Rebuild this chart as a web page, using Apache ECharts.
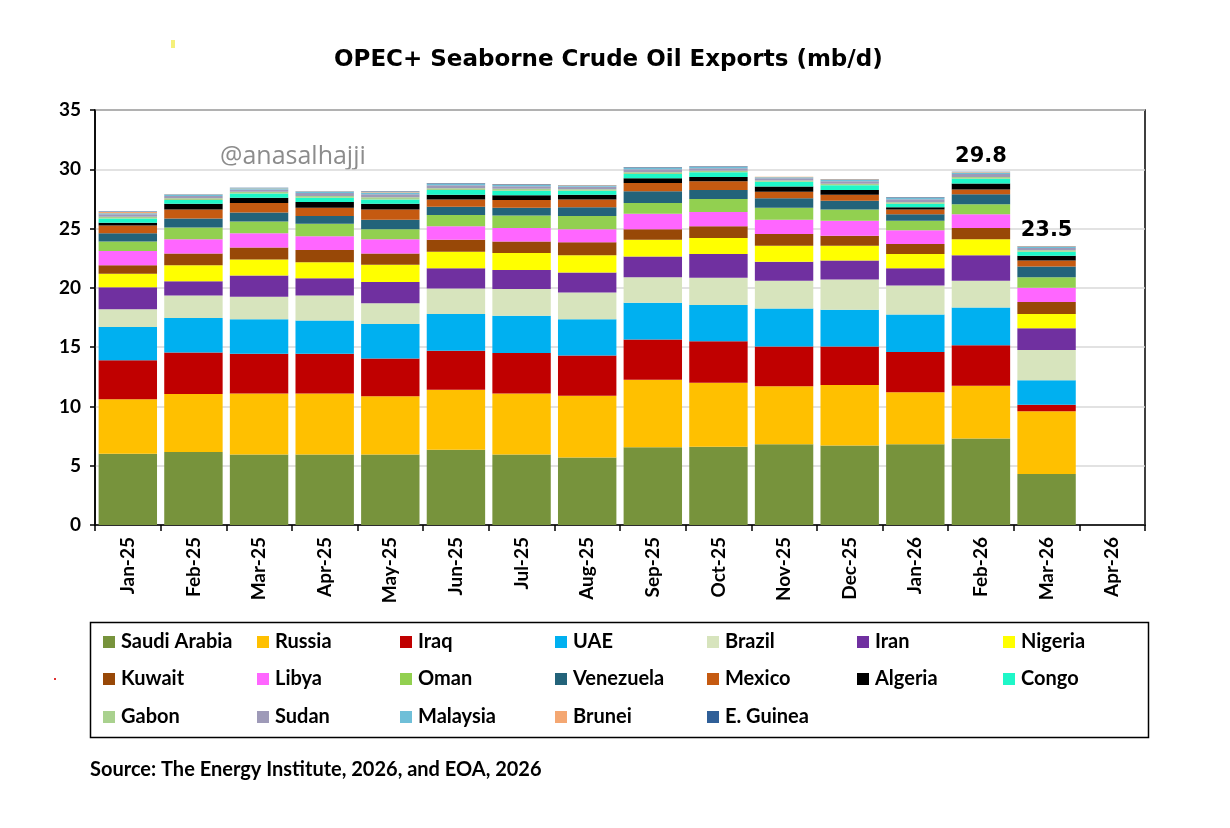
<!DOCTYPE html>
<html>
<head>
<meta charset="utf-8">
<script src="https://cdn.jsdelivr.net/npm/echarts@6/dist/echarts.min.js"></script>
<style>
  html, body { margin: 0; padding: 0; background: #fff; }
  #chart { width: 1230px; height: 828px; }
</style>
</head>
<body>
<div id="chart"></div>
<script>
// 月份
const months = ["Jan-25", "Feb-25", "Mar-25", "Apr-25", "May-25", "Jun-25", "Jul-25", "Aug-25",
  "Sep-25", "Oct-25", "Nov-25", "Dec-25", "Jan-26", "Feb-26", "Mar-26", "Apr-26"];

// 各国出口 (mb/d)
const saudiArabia = [6.0, 6.15, 5.95, 5.95, 5.95, 6.35, 5.95, 5.7, 6.55, 6.6, 6.8, 6.7, 6.8, 7.3, 4.3, null];
const russia = [4.6, 4.9, 5.15, 5.15, 4.9, 5.05, 5.15, 5.2, 5.7, 5.4, 4.9, 5.1, 4.4, 4.45, 5.3, null];
const iraq = [3.3, 3.5, 3.35, 3.35, 3.2, 3.3, 3.4, 3.4, 3.4, 3.5, 3.35, 3.25, 3.4, 3.4, 0.55, null];
const uae = [2.8, 2.9, 2.9, 2.8, 2.9, 3.1, 3.15, 3.05, 3.1, 3.05, 3.2, 3.1, 3.15, 3.2, 2.05, null];
const brazil = [1.5, 1.9, 1.9, 2.1, 1.75, 2.15, 2.25, 2.25, 2.15, 2.3, 2.35, 2.55, 2.45, 2.25, 2.55, null];
const iran = [1.85, 1.2, 1.8, 1.45, 1.8, 1.7, 1.6, 1.7, 1.75, 2.0, 1.6, 1.6, 1.45, 2.15, 1.85, null];
const nigeria = [1.15, 1.35, 1.35, 1.35, 1.45, 1.4, 1.45, 1.45, 1.4, 1.35, 1.35, 1.25, 1.2, 1.35, 1.2, null];
const kuwait = [0.7, 1.0, 1.0, 1.05, 0.95, 1.0, 0.95, 1.1, 0.9, 1.0, 1.0, 0.85, 0.85, 0.95, 1.0, null];
const libya = [1.2, 1.2, 1.2, 1.15, 1.2, 1.15, 1.15, 1.1, 1.3, 1.2, 1.2, 1.25, 1.15, 1.15, 1.2, null];
const oman = [0.8, 1.0, 1.0, 1.05, 0.85, 0.95, 1.05, 1.1, 0.9, 1.1, 1.0, 0.95, 0.8, 0.85, 0.9, null];
const venezuela = [0.7, 0.75, 0.75, 0.65, 0.8, 0.7, 0.65, 0.75, 1.0, 0.75, 0.8, 0.75, 0.55, 0.85, 0.9, null];
const mexico = [0.65, 0.75, 0.8, 0.7, 0.85, 0.6, 0.65, 0.65, 0.7, 0.75, 0.55, 0.5, 0.4, 0.4, 0.5, null];
const algeria = [0.25, 0.5, 0.45, 0.5, 0.5, 0.4, 0.4, 0.4, 0.4, 0.35, 0.45, 0.4, 0.2, 0.5, 0.4, null];
const congo = [0.35, 0.3, 0.35, 0.35, 0.35, 0.4, 0.4, 0.35, 0.35, 0.4, 0.4, 0.4, 0.3, 0.4, 0.35, null];
const gabon = [0.15, 0.15, 0.15, 0.15, 0.2, 0.15, 0.15, 0.12, 0.15, 0.12, 0.1, 0.13, 0.12, 0.15, 0.12, null];
const sudan = [0.2, 0.2, 0.2, 0.25, 0.25, 0.25, 0.22, 0.2, 0.25, 0.22, 0.2, 0.22, 0.25, 0.25, 0.2, null];
const malaysia = [0.1, 0.1, 0.1, 0.1, 0.15, 0.12, 0.1, 0.1, 0.12, 0.1, 0.08, 0.12, 0.12, 0.12, 0.1, null];
const brunei = [0.1, 0.03, 0.03, 0.03, 0.05, 0.04, 0.04, 0.03, 0.04, 0.03, 0.03, 0.04, 0.04, 0.05, 0.03, null];
const eGuinea = [0.05, 0.02, 0.02, 0.02, 0.05, 0.04, 0.04, 0.03, 0.04, 0.03, 0.02, 0.03, 0.04, 0.03, 0.03, null];

// 柱顶标注
const totalLabels = ["", "", "", "", "", "", "", "", "", "", "", "", "", "29.8", "23.5", ""];
const yTicks = [0, 5, 10, 15, 20, 25, 30, 35];

const countries = [
  { name: "Saudi Arabia", data: saudiArabia, color: "#77933C" },
  { name: "Russia", data: russia, color: "#FFC000" },
  { name: "Iraq", data: iraq, color: "#C00000" },
  { name: "UAE", data: uae, color: "#00B0F0" },
  { name: "Brazil", data: brazil, color: "#D7E4BD" },
  { name: "Iran", data: iran, color: "#7030A0" },
  { name: "Nigeria", data: nigeria, color: "#FFFF00" },
  { name: "Kuwait", data: kuwait, color: "#984807" },
  { name: "Libya", data: libya, color: "#FF66FF" },
  { name: "Oman", data: oman, color: "#92D050" },
  { name: "Venezuela", data: venezuela, color: "#23637A" },
  { name: "Mexico", data: mexico, color: "#C55A11" },
  { name: "Algeria", data: algeria, color: "#000000" },
  { name: "Congo", data: congo, color: "#1EF7C8" },
  { name: "Gabon", data: gabon, color: "#A9D18E" },
  { name: "Sudan", data: sudan, color: "#9E9AB8" },
  { name: "Malaysia", data: malaysia, color: "#6FBFD8" },
  { name: "Brunei", data: brunei, color: "#F4A772" },
  { name: "E. Guinea", data: eGuinea, color: "#2F5F98" },
];

// 图例位置 (7列 x 3行)
const legendX = [103, 257, 400, 555, 707, 857, 1003];
const legendY = [632, 669, 707];

const chart = echarts.init(document.getElementById("chart"));

const series = countries.map((c, i) => ({
  name: c.name,
  type: "bar",
  stack: "total",
  data: c.data,
  barCategoryGap: "11%",
  itemStyle: { color: c.color },
  label: i === countries.length - 1 ? {
    show: true,
    position: "top",
    distance: 5,
    formatter: (p) => totalLabels[p.dataIndex],
    fontFamily: "DejaVu Sans",
    fontWeight: "bold",
    fontSize: 21,
    color: "#000",
  } : { show: false },
}));

const legends = countries.map((c, i) => ({
  data: [c.name],
  left: legendX[i % 7],
  top: legendY[Math.floor(i / 7)],
  padding: 0,
  itemWidth: 12,
  itemHeight: 12,
  itemGap: 6,
  icon: "rect",
  selectedMode: false,
  textStyle: { fontFamily: "Lato", fontWeight: "bold", fontSize: 20, color: "#000", padding: [0, 0, 0, 1] },
}));

const option = {
  animation: false,
  backgroundColor: "#fff",
  title: {
    text: "OPEC+ Seaborne Crude Oil Exports (mb/d)",
    left: 329,
    top: 44,
    textStyle: { fontFamily: "DejaVu Sans", fontWeight: "bold", fontSize: 23, color: "#000" },
  },
  grid: {
    left: 95, right: 85, top: 110, bottom: 303,
    show: true, borderColor: "#000", borderWidth: 1.5, backgroundColor: "transparent",
  },
  legend: legends,
  xAxis: {
    type: "category",
    data: months,
    axisLine: { lineStyle: { color: "#000", width: 1.5 } },
    axisTick: { show: true, length: 6, lineStyle: { color: "#000", width: 1.5 } },
    axisLabel: {
      rotate: 90, margin: 12, interval: 0,
      fontFamily: "Lato", fontWeight: "bold", fontSize: 19, color: "#000",
    },
  },
  yAxis: {
    type: "value",
    min: yTicks[0],
    max: yTicks[yTicks.length - 1],
    interval: 5,
    axisLine: { show: true, lineStyle: { color: "#000", width: 1.5 } },
    axisTick: { show: true, length: 5, lineStyle: { color: "#000", width: 1.5 } },
    axisLabel: { margin: 14, fontFamily: "Lato", fontWeight: "bold", fontSize: 19, color: "#000" },
    splitLine: { lineStyle: { color: "#D9D9D9", width: 1.5 } },
  },
  series: series,
  graphic: [
    {
      type: "text", left: 220, top: 144,
      style: { text: "@anasalhajji", fontFamily: "Open Sans", fontSize: 25, fill: "#8C8C8C" },
    },
    {
      type: "rect", left: 88, top: 620,
      shape: { width: 1058, height: 115 },
      style: { fill: "none", stroke: "#000", lineWidth: 1.5 },
    },
    {
      type: "text", left: 90, top: 760,
      style: { text: "Source: The Energy Institute, 2026, and EOA, 2026", fontFamily: "Lato", fontWeight: "bold", fontSize: 20, fill: "#000" },
    },
    { type: "rect", left: 171, top: 40, shape: { width: 4, height: 8 }, style: { fill: "#F5F07A" } },
    { type: "rect", left: 54, top: 678, shape: { width: 2, height: 2 }, style: { fill: "#E03030" } },
  ],
};

chart.setOption(option);
</script>
</body>
</html>
